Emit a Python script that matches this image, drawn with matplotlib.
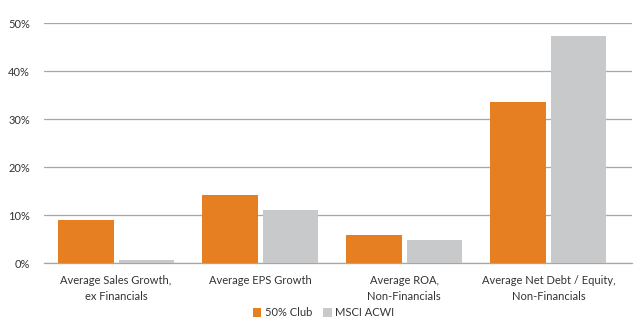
import numpy as np
from matplotlib import pyplot as plt

plt.rcParams['font.family'] = ['Lato', 'DejaVu Sans']

categories = ['Average Sales Growth,\nex Financials', 'Average EPS Growth',
              'Average ROA,\nNon-Financials', 'Average Net Debt / Equity,\nNon-Financials']
club = [8.9, 14.2, 5.8, 33.6]
acwi = [0.7, 11.0, 4.7, 47.2]
series_names = ['50% Club', 'MSCI ACWI']

fig = plt.figure(figsize=(6.37, 3.25), dpi=100)
ax = fig.add_axes([44 / 637, 62 / 325, 588 / 637, 240 / 325])

x = np.arange(len(categories))
w = 0.385
ax.bar(x - 0.21, club, width=w, color='#e67e22', label=series_names[0], zorder=3)
ax.bar(x + 0.21, acwi, width=w, color='#c8c9cb', label=series_names[1], zorder=3)

ax.set_xlim(-0.5, 3.58)
ax.set_ylim(0, 50)
ax.set_yticks(np.arange(0, 51, 10))
ax.set_yticklabels([f'{v}%' for v in range(0, 51, 10)])
ax.yaxis.grid(True, color='#a6a6a6', linewidth=0.9, zorder=0)
ax.set_xticks(x)
ax.set_xticklabels(categories, fontsize=8, color='#333333', linespacing=1.55)
ax.tick_params(axis='y', labelsize=8, colors='#333333', length=0, pad=10)
ax.tick_params(axis='x', length=0, pad=9)
for s in ['top', 'right', 'left']:
    ax.spines[s].set_visible(False)
ax.spines['bottom'].set_color('#a6a6a6')
ax.spines['bottom'].set_linewidth(0.9)

fig.legend(loc='lower center', bbox_to_anchor=(0.508, -0.01), ncol=2, frameon=False,
           fontsize=8, handlelength=0.8, handleheight=0.8, handletextpad=0.3,
           columnspacing=1.0, labelcolor='#333333')

fig.savefig('out.png', dpi=100)
